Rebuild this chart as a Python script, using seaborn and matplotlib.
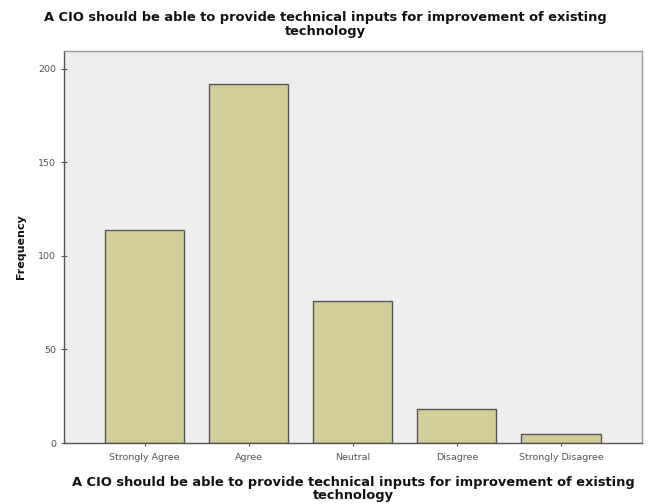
import matplotlib
matplotlib.use("Agg")
import matplotlib.pyplot as plt
import seaborn as sns
import pandas as pd

# data
categories = ['Strongly Agree', 'Agree', 'Neutral', 'Disagree', 'Strongly Disagree']
frequency = [114, 192, 76, 18, 5]
y_ticks = [0, 50, 100, 150, 200]

question = "A CIO should be able to provide technical inputs for improvement of existing\ntechnology"

df = pd.DataFrame({'Response': categories, 'Frequency': frequency})

sns.set_style("white", {'xtick.bottom': True, 'ytick.left': True})
plt.rcParams['font.family'] = ['DejaVu Sans']

fig = plt.figure(figsize=(6.5, 5.04), dpi=100)
ax = fig.add_axes([0.0985, 0.121, 0.8895, 0.778])
ax.set_facecolor('#EEEEEE')

sns.barplot(data=df, x='Response', y='Frequency', order=categories,
            color='#D3CE98', edgecolor='#555555', linewidth=1.0,
            width=0.76, saturation=1, ax=ax)

ax.set_xlim(-0.775, 4.78)
ax.set_ylim(0, 209.6)
ax.set_yticks(y_ticks)
ax.set_yticklabels([str(v) for v in y_ticks], fontsize=6.8, color='#555555')
ax.set_xticks(range(len(categories)))
ax.set_xticklabels(categories, fontsize=6.8, color='#555555')
ax.tick_params(axis='both', direction='inout', length=5, width=0.8, color='#555555')
ax.tick_params(axis='x', pad=5)
ax.tick_params(axis='y', pad=3)

for side in ['left', 'bottom']:
    ax.spines[side].set_color('#555555')
    ax.spines[side].set_linewidth(1.0)
for side in ['top', 'right']:
    ax.spines[side].set_color('#999999')
    ax.spines[side].set_linewidth(1.0)

title_font = dict(fontsize=9.4, fontweight='bold', color='#111111')
ax.set_ylabel('Frequency', fontsize=8, fontweight='bold', color='#111111', labelpad=9)
ax.set_xlabel(question, labelpad=10, linespacing=0.95, **title_font)
# the title sits centred on the whole figure, not on the axes
fig.suptitle(question, x=0.5, y=0.978, va='top', linespacing=1.05, **title_font)

fig.savefig('out.png', dpi=100, facecolor='white')
